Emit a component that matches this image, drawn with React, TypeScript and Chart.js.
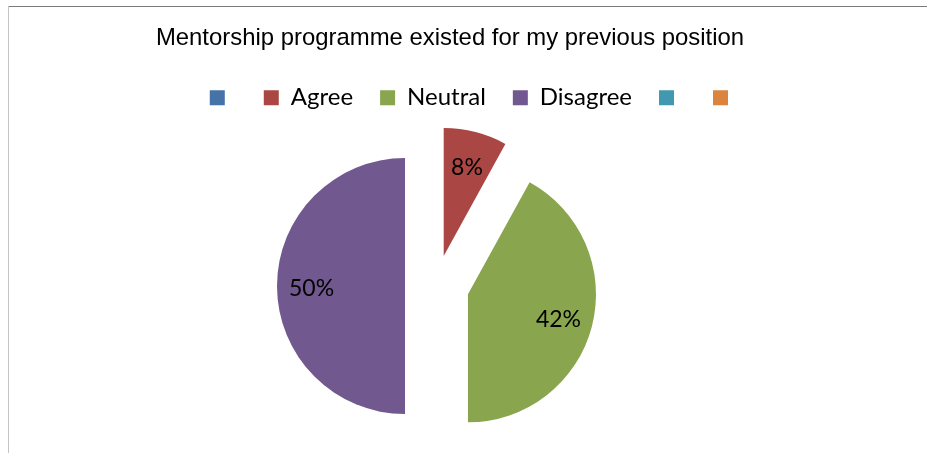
import React, { useEffect, useRef } from 'react';
import { Chart, registerables } from 'chart.js';

Chart.register(...registerables);

const TITLE = 'Mentorship programme existed for my previous position';
const CATEGORIES = ['', 'Agree', 'Neutral', 'Disagree', '', ''];
const VALUES = [0, 8, 42, 50, 0, 0];
const COLORS = ['#4572A7', '#AA4643', '#89A54E', '#71588F', '#4198AF', '#DB843D'];
const EXPLODE = [0, 31, 33, 31, 0, 0];

const explodePlugin = {
  id: 'explodeSlices',
  afterDatasetsUpdate(chart: any) {
    const meta = chart.getDatasetMeta(0);
    meta.data.forEach((arc: any, i: number) => {
      const d = EXPLODE[i] || 0;
      const mid = (arc.startAngle + arc.endAngle) / 2;
      arc.x += Math.cos(mid) * d;
      arc.y += Math.sin(mid) * d;
    });
  },
};

const labelsPlugin = {
  id: 'sliceLabels',
  afterDatasetsDraw(chart: any) {
    const ctx = chart.ctx;
    const meta = chart.getDatasetMeta(0);
    const total = VALUES.reduce((a, b) => a + b, 0);
    ctx.save();
    ctx.font = '23px Lato';
    ctx.fillStyle = '#000';
    ctx.textAlign = 'center';
    ctx.textBaseline = 'middle';
    meta.data.forEach((arc: any, i: number) => {
      const v = VALUES[i];
      if (!v) return;
      const mid = (arc.startAngle + arc.endAngle) / 2;
      const r = arc.outerRadius * 0.73;
      ctx.fillText(Math.round((v / total) * 100) + '%', arc.x + Math.cos(mid) * r, arc.y + Math.sin(mid) * r + 2);
    });
    ctx.restore();
  },
};

export default function App() {
  const ref = useRef<HTMLCanvasElement | null>(null);

  useEffect(() => {
    if (!ref.current) return;
    const chart = new Chart(ref.current, {
      type: 'pie',
      data: {
        labels: CATEGORIES,
        datasets: [
          {
            data: VALUES,
            backgroundColor: COLORS,
            borderWidth: 0,
            radius: 128,
          } as any,
        ],
      },
      options: {
        responsive: false,
        animation: false,
        events: [],
        layout: { padding: { left: 133, right: 160, top: 24.4, bottom: 0.5 } },
        plugins: {
          title: {
            display: true,
            text: TITLE,
            color: '#000',
            font: { family: "'Liberation Sans', Arial, sans-serif", size: 23.9, weight: 'normal', lineHeight: 1.2 },
            padding: { top: 0, bottom: 5.6 },
          },
          subtitle: {
            display: true,
            text: '',
            position: 'right',
            fullSize: false,
            font: { size: 10, lineHeight: 1 },
            padding: { top: 9, bottom: 9 },
          },
          legend: {
            position: 'top',
            align: 'end',
            fullSize: true,
            labels: {
              boxWidth: 15,
              boxHeight: 15,
              padding: 27,
              color: '#000',
              font: { family: 'Lato', size: 24 },
            },
          },
          tooltip: { enabled: false },
        },
      } as any,
      plugins: [explodePlugin, labelsPlugin],
    });
    return () => chart.destroy();
  }, []);

  return (
    <div style={{ position: 'absolute', left: 0, top: 0, width: 927, height: 453, background: '#fff' }}>
      <canvas ref={ref} width={927} height={453} style={{ position: 'absolute', left: 0, top: 0, width: 927, height: 453 }} />
      <div style={{ position: 'absolute', left: 8, top: 6, width: 919, height: 1, background: '#7a7a7a' }} />
      <div style={{ position: 'absolute', left: 8, top: 6, width: 1, height: 447, background: '#c4c4c4' }} />
    </div>
  );
}
